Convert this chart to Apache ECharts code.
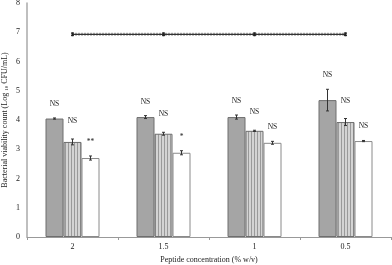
<!DOCTYPE html>
<html><head><meta charset="utf-8">
<script src="https://cdn.jsdelivr.net/npm/echarts@6/dist/echarts.min.js"></script>
<style>html,body{margin:0;padding:0;background:#fff}#c{width:392px;height:265px}</style>
</head><body><div id="c"></div>
<script>
const categories = ['2', '1.5', '1', '0.5'];
const grayVals = [4.05, 4.10, 4.10, 4.68];
const grayErr = [0.02, 0.05, 0.07, 0.37];
const stripeVals = [3.25, 3.53, 3.63, 3.93];
const stripeErr = [0.10, 0.05, 0.02, 0.12];
const whiteVals = [2.70, 2.88, 3.22, 3.28];
const whiteErr = [0.07, 0.07, 0.05, 0.02];
const lineVals = [6.93, 6.93, 6.93, 6.93];
const lineErr = [0.04, 0.04, 0.04, 0.04];
const grayLabels = ['NS', 'NS', 'NS', 'NS'];
const stripeLabels = ['NS', 'NS', 'NS', 'NS'];
const whiteLabels = ['**', '*', 'NS', 'NS'];
const yTicks = [0, 1, 2, 3, 4, 5, 6, 7, 8];

const chart = echarts.init(document.getElementById('c'));
const FONT = 'Liberation Serif';

const pc = document.createElement('canvas');
pc.width = 3; pc.height = 4;
const pctx = pc.getContext('2d');
pctx.fillStyle = '#d4d4d4'; pctx.fillRect(0, 0, 3, 4);
pctx.fillStyle = '#9a9a9a'; pctx.fillRect(2, 0, 1, 4);

const BW = 18;
function errSeries(vals, errs, labels, offsetIdx, dist) {
  return {
    type: 'custom', z: 5,
    data: vals.map((v, i) => [i, v, errs[i], labels ? labels[i] : '']),
    renderItem: function (params, api) {
      const c = api.coord([api.value(0), api.value(1)]);
      const x = c[0] + offsetIdx * BW;
      const e = api.value(2);
      const top = api.coord([api.value(0), api.value(1) + e])[1];
      const bot = api.coord([api.value(0), api.value(1) - e])[1];
      const st = { stroke: '#333', lineWidth: 1 };
      const ch = [
        { type: 'line', shape: { x1: x, y1: top, x2: x, y2: bot }, style: st },
        { type: 'line', shape: { x1: x - 1.5, y1: top, x2: x + 1.5, y2: top }, style: st },
        { type: 'line', shape: { x1: x - 1.5, y1: bot, x2: x + 1.5, y2: bot }, style: st }
      ];
      const lab = api.value(3);
      if (lab) {
        ch.push({ type: 'text', style: { text: lab, x: x, y: top - dist, align: 'center', verticalAlign: 'middle', font: '7.5px "Liberation Serif"', fill: '#222' } });
      }
      return { type: 'group', children: ch };
    }
  };
}

chart.setOption({
  animation: false,
  grid: { left: 27, right: 1, top: 3, bottom: 28, outerBoundsMode: 'none', containLabel: false },
  xAxis: {
    type: 'category', data: categories,
    name: 'Peptide concentration (% w/v)', nameLocation: 'middle', nameGap: 15,
    nameTextStyle: { fontFamily: FONT, fontSize: 8, color: '#222' },
    axisLine: { lineStyle: { color: '#999', width: 1 } },
    axisTick: { show: true, lineStyle: { color: '#999' }, length: 3 },
    axisLabel: { fontFamily: FONT, fontSize: 8, color: '#222', margin: 6 }
  },
  yAxis: {
    type: 'value', min: 0, max: 8, interval: 1,
    name: 'Bacterial viability count (Log {s|10} CFU/mL)', nameLocation: 'middle', nameGap: 18, nameMoveOverlap: false,
    nameTextStyle: { fontFamily: FONT, fontSize: 8, color: '#222', rich: { s: { fontFamily: FONT, fontSize: 5, color: '#222', verticalAlign: 'bottom' } } },
    axisLine: { show: true, lineStyle: { color: '#aaa', width: 1.5 } },
    axisTick: { show: false },
    splitLine: { show: false },
    axisLabel: { fontFamily: FONT, fontSize: 8, color: '#222', margin: 7, formatter: v => yTicks.includes(v) ? String(v) : '' }
  },
  series: [
    { type: 'bar', data: grayVals, barWidth: BW, barGap: '0%', itemStyle: { color: '#a5a5a5', borderColor: '#6e6e6e', borderWidth: 1 } },
    { type: 'bar', data: stripeVals, barWidth: BW, barGap: '0%', itemStyle: { color: { image: pc, repeat: 'repeat' }, borderColor: '#6e6e6e', borderWidth: 1 } },
    { type: 'bar', data: whiteVals, barWidth: BW, barGap: '0%', itemStyle: { color: '#ffffff', borderColor: '#8a8a8a', borderWidth: 1 } },
    { type: 'line', data: lineVals, symbol: 'rect', symbolSize: [2, 4], lineStyle: { color: '#333', width: 1.2 }, itemStyle: { color: '#222' }, z: 6 },
    { type: 'line', data: lineVals, symbol: 'none', lineStyle: { color: '#666', width: 3, type: [1, 2] }, z: 5 },
    errSeries(grayVals, grayErr, grayLabels, -1, 14),
    errSeries(stripeVals, stripeErr, stripeLabels, 0, 18),
    errSeries(whiteVals, whiteErr, whiteLabels, 1, 14),
    errSeries(lineVals, lineErr, null, 0, 0)
  ]
});
</script></body></html>
